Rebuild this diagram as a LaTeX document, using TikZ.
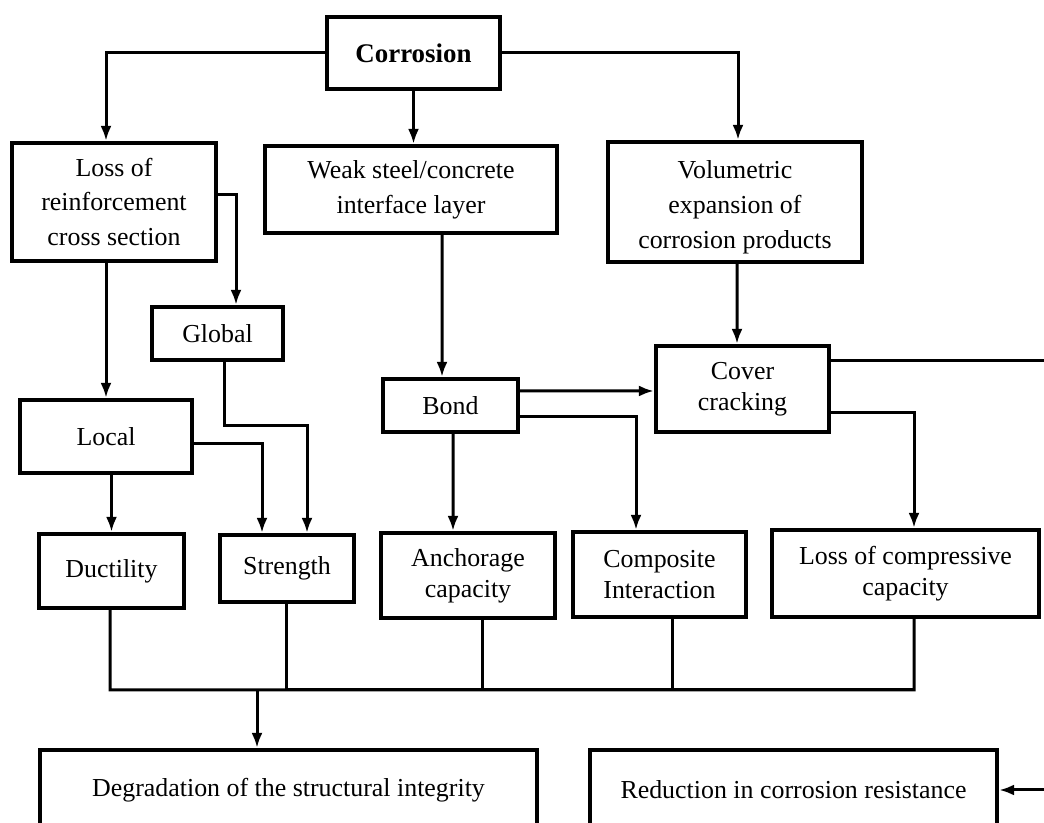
\documentclass[tikz,border=0pt]{standalone}
\usepackage{fontspec}
\setmainfont{Liberation Serif}
\usetikzlibrary{arrows.meta}

\begin{document}
\begin{tikzpicture}[>={Latex[length=15bp,width=11bp]},line join=miter,
  box/.style={draw,line width=4.2bp,inner sep=0pt,align=center,font=\fontsize{26}{35}\selectfont},
  tight/.style={font=\fontsize{26}{31}\selectfont},
  link/.style={black,line width=3bp}]
%%
\useasboundingbox (0bp,0bp) rectangle (1044bp,823bp);
\node (corrosion) at (413.5bp,770bp) [box,minimum width=173bp,minimum height=72bp] {\fontsize{27}{35}\selectfont\bfseries Corrosion};
  \node (loss) at (114bp,621bp) [box,minimum width=204bp,minimum height=118bp] {Loss of\\reinforcement\\cross section};
  \node (weak) at (411bp,633.5bp) [box,minimum width=292bp,minimum height=87bp] {Weak steel/concrete\\interface layer};
  \node (volumetric) at (735bp,621bp) [box,minimum width=254bp,minimum height=120bp] {\rule{0pt}{28bp}Volumetric\\expansion of\\corrosion products};
  \node (global) at (217.5bp,489.5bp) [box,minimum width=131bp,minimum height=53bp] {Global};
  \node (local) at (106bp,386.5bp) [box,minimum width=172bp,minimum height=73bp] {Local};
  \node (bond) at (450.5bp,417.5bp) [box,minimum width=135bp,minimum height=53bp] {Bond};
  \node (cover) at (742.5bp,434bp) [box,tight,minimum width=173bp,minimum height=86bp] {Cover\\cracking};
  \node (ductility) at (111.5bp,252bp) [box,minimum width=145bp,minimum height=74bp] {Ductility};
  \node (strength) at (287bp,254.5bp) [box,minimum width=134bp,minimum height=67bp] {Strength};
  \node (anchorage) at (468bp,247.5bp) [box,tight,minimum width=174bp,minimum height=85bp] {Anchorage\\capacity};
  \node (composite) at (659.5bp,248.5bp) [box,tight,minimum width=173bp,minimum height=85bp] {Composite\\Interaction};
  \node (compressive) at (905.5bp,249.5bp) [box,tight,minimum width=267bp,minimum height=87bp] {Loss of compressive\\capacity};
  \node (degradation) at (288.5bp,33bp) [box,minimum width=497bp,minimum height=80bp] {Degradation of the structural integrity};
  \node (reduction) at (793.5bp,33bp) [box,minimum width=407bp,minimum height=80bp] {Reduction in corrosion resistance};
  \coordinate (busR) at (914bp,133bp);
  \coordinate (busD) at (257bp,133bp);
  \draw [link,->] (corrosion.west) -| ([xshift=-8bp]loss.north);
  \draw [link,->] (corrosion.south) -- (corrosion.south |- weak.north);
  \draw [link,->] (corrosion.east) -| ([xshift=3bp]volumetric.north);
  \draw [link,->] ([yshift=7bp]loss.east) -| ([xshift=18.5bp]global.north);
  \draw [link,->] ([xshift=-8bp]loss.south) -- (local.north);
  \draw [link,->] ([xshift=31bp]weak.south) -- ([xshift=-8.5bp]bond.north);
  \draw [link,->] ([xshift=2bp]volumetric.south) -- ([xshift=-5.5bp]cover.north);
  \draw [link,->] ([xshift=6.5bp]global.south) -- ++(0,-63bp) -| ([xshift=20bp]strength.north);
  \draw [link,->] ([yshift=-7.5bp]local.east) -| ([xshift=-25bp]strength.north);
  \draw [link,->] (local.south -| ductility.north) -- (ductility.north);
  \draw [link,->] ([yshift=14.5bp]bond.east) -- ([yshift=-2bp]cover.west);
  \draw [link,->] ([yshift=-11.5bp]bond.east) -| ([xshift=-23.5bp]composite.north);
  \draw [link,->] ([xshift=2.5bp]bond.south) -- ([xshift=-15bp]anchorage.north);
  \draw [link,->] ([yshift=28bp]cover.east) -- ++(230bp,0) |- (reduction.east);
  \draw [link,->] ([yshift=-24bp]cover.east) -| ([xshift=8.5bp]compressive.north);
  \draw [link] ([xshift=-1.5bp]ductility.south) |- (busR) -- ([xshift=8.5bp]compressive.south);
  \foreach \n/\dx in {strength/-0.5,anchorage/14,composite/12.5}
    \draw [link] ([xshift=\dx bp]\n.south) |- (busR);
  \draw [link,->] (busD) -- (busD |- degradation.north);
%
\end{tikzpicture}
\end{document}
